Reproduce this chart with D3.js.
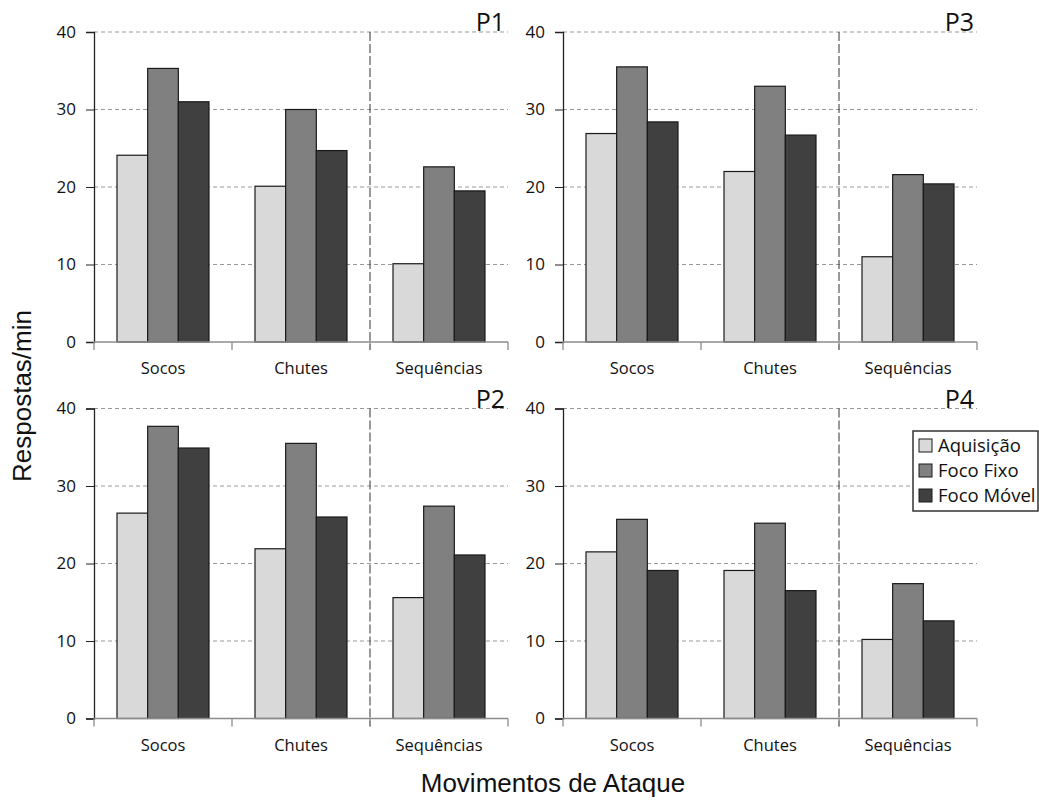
<!DOCTYPE html>
<html>
<head>
<meta charset="utf-8">
<script src="https://cdn.jsdelivr.net/npm/d3@7"></script>
<style>
  body { margin: 0; background: #fff; }
  svg { display: block; }
</style>
</head>
<body>
<div id="chart"></div>
<script>
// categories and series
const categories = ["Socos", "Chutes", "Sequências"];
const series = ["Aquisição", "Foco Fixo", "Foco Móvel"];
const yTicks = [0, 10, 20, 30, 40];

// values per participant, one row per category: [Aquisição, Foco Fixo, Foco Móvel]
const p1 = [[24.1, 35.3, 31.0], [20.1, 30.0, 24.7], [10.1, 22.6, 19.5]];
const p2 = [[26.5, 37.7, 34.9], [21.9, 35.5, 26.0], [15.6, 27.4, 21.1]];
const p3 = [[26.9, 35.5, 28.4], [22.0, 33.0, 26.7], [11.0, 21.6, 20.4]];
const p4 = [[21.5, 25.7, 19.1], [19.1, 25.2, 16.5], [10.2, 17.4, 12.6]];

const panels = [
    { name: "P1", values: p1, col: 0, row: 0 },
    { name: "P3", values: p3, col: 1, row: 0 },
    { name: "P2", values: p2, col: 0, row: 1 },
    { name: "P4", values: p4, col: 1, row: 1 }
];

const colors = ["#d9d9d9", "#808080", "#404040"];

const width = 1039, height = 800;
const colLeft = [94, 563];
const rowTop = [32, 408.5];
const plotW = 414, plotH = 310;

const svg = d3.select("#chart").append("svg")
    .attr("width", width)
    .attr("height", height);

const color = d3.scaleOrdinal().domain(series).range(colors);

panels.forEach(p => {
    const x0 = colLeft[p.col], y0 = rowTop[p.row];
    const g = svg.append("g").attr("transform", `translate(${x0},${y0})`);

    const x = d3.scaleBand().domain(categories).range([0, plotW]);
    const xs = d3.scaleBand().domain(series)
        .range([x.bandwidth() / 6, x.bandwidth() * 5 / 6]);
    const y = d3.scaleLinear().domain([0, 40]).range([plotH, 0]);

    // dashed gridlines
    g.append("g")
        .selectAll("line")
        .data(yTicks.filter(d => d > 0))
        .enter()
        .append("line")
        .attr("x1", 0).attr("x2", plotW)
        .attr("y1", d => y(d)).attr("y2", d => y(d))
        .attr("stroke", "#999")
        .attr("stroke-dasharray", "4,3");

    // dashed separator before "Sequências"
    g.append("line")
        .attr("x1", x("Sequências")).attr("x2", x("Sequências"))
        .attr("y1", 0).attr("y2", plotH + 8)
        .attr("stroke", "#333")
        .attr("stroke-dasharray", "9,3");

    // bars
    g.append("g")
        .selectAll("g")
        .data(categories)
        .enter()
        .append("g")
        .attr("transform", d => `translate(${x(d)},0)`)
        .selectAll("rect")
        .data((d, i) => p.values[i].map((v, j) => ({ key: series[j], value: v })))
        .enter()
        .append("rect")
        .attr("x", d => xs(d.key))
        .attr("width", xs.bandwidth())
        .attr("y", d => y(d.value))
        .attr("height", d => plotH - y(d.value))
        .attr("fill", d => color(d.key))
        .attr("stroke", "#1a1a1a")
        .attr("stroke-width", 1.2);

    // y axis
    const yAxis = g.append("g")
        .call(d3.axisLeft(y).tickValues(yTicks).tickSize(8).tickPadding(10));
    yAxis.select(".domain").attr("stroke", "#222").attr("stroke-width", 1.3);
    yAxis.selectAll(".tick line").attr("stroke", "#222");
    yAxis.selectAll("text")
        .attr("font-family", "Open Sans")
        .attr("font-size", 17)
        .attr("fill", "#111");

    // x axis: ticks on category boundaries
    const xAxis = g.append("g").attr("transform", `translate(0,${plotH})`);
    xAxis.append("line")
        .attr("x1", 0).attr("x2", plotW)
        .attr("stroke", "#8c8c8c").attr("stroke-width", 1.3);
    xAxis.selectAll("line.b")
        .data(categories.map(c => x(c)).concat([plotW]))
        .enter()
        .append("line")
        .attr("class", "b")
        .attr("x1", d => d).attr("x2", d => d)
        .attr("y1", 0).attr("y2", 8)
        .attr("stroke", "#8c8c8c").attr("stroke-width", 1.3);
    xAxis.selectAll("text")
        .data(categories)
        .enter()
        .append("text")
        .attr("x", d => x(d) + x.bandwidth() / 2)
        .attr("y", 32)
        .attr("text-anchor", "middle")
        .attr("font-family", "Open Sans")
        .attr("font-size", 16.5)
        .attr("fill", "#111")
        .text(d => d);

    // panel label
    g.append("text")
        .attr("x", plotW - 3)
        .attr("y", -1)
        .attr("text-anchor", "end")
        .attr("font-family", "Open Sans")
        .attr("font-size", 25)
        .attr("fill", "#111")
        .text(p.name);
});

// legend (inside P4, against the right edge)
const legend = svg.append("g").attr("transform", "translate(913,431)");
legend.append("rect")
    .attr("width", 125).attr("height", 80)
    .attr("fill", "#fff")
    .attr("stroke", "#333").attr("stroke-width", 1.5);
const items = legend.selectAll("g")
    .data(series)
    .enter()
    .append("g")
    .attr("transform", (d, i) => `translate(6,${8 + i * 25})`);
items.append("rect")
    .attr("width", 13).attr("height", 13)
    .attr("fill", d => color(d))
    .attr("stroke", "#1a1a1a");
items.append("text")
    .attr("x", 19).attr("y", 7)
    .attr("dy", "0.35em")
    .attr("font-family", "Open Sans")
    .attr("font-size", 18.5)
    .attr("fill", "#111")
    .text(d => d);

// axis titles
svg.append("text")
    .attr("transform", "translate(31,396) rotate(-90)")
    .attr("text-anchor", "middle")
    .attr("font-family", "Liberation Sans")
    .attr("font-size", 26)
    .attr("fill", "#111")
    .text("Respostas/min");

svg.append("text")
    .attr("x", 553).attr("y", 792)
    .attr("text-anchor", "middle")
    .attr("font-family", "Liberation Sans")
    .attr("font-size", 26)
    .attr("fill", "#111")
    .text("Movimentos de Ataque");
</script>
</body>
</html>
